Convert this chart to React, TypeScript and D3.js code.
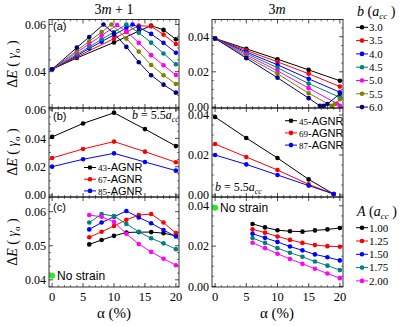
import React from "react";
import * as d3 from "d3";

const W = 415;
const H = 326;

const alphaTicks = [0, 5, 10, 15, 20];

// panel (a): gap vs strain for several b
const bLabels = ["3.0", "3.5", "4.0", "4.5", "5.0", "5.5", "6.0"];
const bColors = ["#000000", "#ff0000", "#0000ff", "#008080", "#ff00ff", "#808000", "#000080"];

const a1Alpha = [
  [0, 4, 10, 14, 16, 18, 20],
  [0, 4, 10, 12, 14, 16, 18, 20],
  [0, 4, 6, 8, 10, 12, 13, 14, 16, 18, 20],
  [0, 4, 6, 8, 10, 12, 14, 16, 18, 20],
  [0, 4, 6, 8, 10.5, 12, 14, 16, 18, 20],
  [0, 4, 6, 8, 9.6, 12, 14, 16, 18, 20],
  [0, 4, 6, 8.3, 10, 12, 14, 16, 18, 20],
];
const a1Gap = [
  [0.041, 0.0458, 0.0524, 0.0572, 0.0595, 0.0577, 0.0537],
  [0.041, 0.0463, 0.054, 0.0568, 0.0595, 0.0592, 0.0557, 0.0517],
  [0.041, 0.0468, 0.0498, 0.0527, 0.0556, 0.0585, 0.06, 0.0588, 0.056, 0.0522, 0.048],
  [0.041, 0.0473, 0.0505, 0.0537, 0.0568, 0.06, 0.0565, 0.0523, 0.0477, 0.0431],
  [0.041, 0.0482, 0.0517, 0.0553, 0.0598, 0.057, 0.0522, 0.047, 0.0427, 0.0386],
  [0.041, 0.0489, 0.0529, 0.0568, 0.06, 0.054, 0.0485, 0.0428, 0.0385, 0.0348],
  [0.041, 0.0502, 0.0547, 0.06, 0.0562, 0.0505, 0.044, 0.0385, 0.0345, 0.0311],
];

const a0Alpha = [
  [0, 5, 10, 15, 20],
  [0, 5, 10, 15, 20],
  [0, 5, 10, 15, 20],
  [0, 5, 10, 15, 20],
  [0, 5, 10, 15, 19.5, 20],
  [0, 5, 10, 15, 18.7, 19.2, 20],
  [0, 5, 10, 15, 16.8, 17.4, 18, 20],
];
const a0Gap = [
  [0.039, 0.0331, 0.0272, 0.0211, 0.0149],
  [0.039, 0.0322, 0.0257, 0.0189, 0.0116],
  [0.039, 0.0313, 0.024, 0.016, 0.0084],
  [0.039, 0.0305, 0.0223, 0.0133, 0.0055],
  [0.039, 0.0296, 0.0206, 0.0107, 0.002, 0.0006],
  [0.039, 0.0287, 0.0189, 0.0078, 0.0006, 0.0017, 0.0044],
  [0.039, 0.0278, 0.0166, 0.005, 0.0006, 0.0006, 0.0017, 0.0075],
];

// panel (b): ribbons at b = 5.5 acc
const ribbonColors = ["#000000", "#ff0000", "#0000ff"];
const b1Names = ["43", "67", "85"];
const b1Alpha = [0, 5, 10, 15, 20];
const b1Gap = [
  [0.041, 0.0505, 0.058, 0.0465, 0.0345],
  [0.0261, 0.0325, 0.0377, 0.0306, 0.0231],
  [0.02, 0.0252, 0.0294, 0.0233, 0.0172],
];
const b0Names = ["45", "69", "87"];
const b0Alpha = [0, 5, 10, 15, 19];
const b0Gap = [
  [0.039, 0.0285, 0.0185, 0.0078, 0.0005],
  [0.0255, 0.019, 0.0125, 0.0053, 0.0005],
  [0.02, 0.0153, 0.01, 0.0047, 0.0005],
];

// panel (c): varying A
const aLabels = ["1.00", "1.25", "1.50", "1.75", "2.00"];
const aColors = ["#000000", "#ff0000", "#0000ff", "#008080", "#ff00ff"];
const cAlpha = [6, 8, 10, 12, 14, 16, 18, 20];
const c1Gap = [
  [0.0504, 0.0517, 0.0529, 0.0539, 0.054, 0.054, 0.0537, 0.0529],
  [0.0525, 0.0541, 0.0558, 0.0576, 0.059, 0.0593, 0.0568, 0.0537],
  [0.0548, 0.0568, 0.0585, 0.0602, 0.0583, 0.0566, 0.0546, 0.0527],
  [0.0568, 0.0593, 0.0587, 0.0564, 0.0541, 0.0522, 0.0507, 0.049],
  [0.059, 0.0585, 0.057, 0.0535, 0.0505, 0.0482, 0.0462, 0.0443],
];
const c0Gap = [
  [0.031, 0.0293, 0.0279, 0.0274, 0.0272, 0.0278, 0.0283, 0.029],
  [0.0284, 0.0267, 0.0248, 0.0231, 0.0216, 0.0205, 0.02, 0.0197],
  [0.0262, 0.0241, 0.0221, 0.0198, 0.0179, 0.0159, 0.0145, 0.0129],
  [0.024, 0.0216, 0.019, 0.0167, 0.0147, 0.0124, 0.0103, 0.0081],
  [0.0217, 0.019, 0.0162, 0.0136, 0.0112, 0.0088, 0.0064, 0.0041],
];
const noStrain1 = 0.0412;
const noStrain0 = 0.039;

const cols = [
  [49, 179],
  [212, 343],
];
const rows = [
  [19.5, 108],
  [108, 197],
  [197, 287],
];

const serif = "Liberation Serif";
const sans = "Liberation Sans";

type Series = { xs: number[]; ys: number[]; color: string };

type PanelProps = {
  col: number;
  row: number;
  yDomain: [number, number];
  yTicks: number[];
  yMinor: number;
  series: Series[];
  showX?: boolean;
  children?: (x: d3.ScaleLinear<number, number>, y: d3.ScaleLinear<number, number>) => React.ReactNode;
};

const Panel = ({ col, row, yDomain, yTicks, yMinor, series, showX, children }: PanelProps) => {
  const [x0, x1] = cols[col];
  const [y0, y1] = rows[row];
  const x = d3.scaleLinear().domain([-0.5, 20.5]).range([x0, x1]);
  const y = d3.scaleLinear().domain(yDomain).range([y1, y0]);
  const line = d3
    .line<[number, number]>()
    .x((d) => x(d[0]))
    .y((d) => y(d[1]));
  const minorX = d3.range(0, 21, 1).filter((v) => v % 5 !== 0);
  const minorY = d3
    .range(Math.ceil(yDomain[0] / yMinor) * yMinor, yDomain[1], yMinor)
    .filter((v) => !yTicks.some((t) => Math.abs(t - v) < 1e-9));
  return (
    <g>
      <defs>
        <clipPath id={`clip-${col}-${row}`}>
          <rect x={x0} y={y0} width={x1 - x0} height={y1 - y0} />
        </clipPath>
      </defs>
      {alphaTicks.map((t) => (
        <g key={`xt${t}`} stroke="#000" strokeWidth={0.7}>
          <line x1={x(t)} x2={x(t)} y1={y1} y2={y1 - 4} />
          <line x1={x(t)} x2={x(t)} y1={y0} y2={y0 + 4} />
        </g>
      ))}
      {minorX.map((t) => (
        <g key={`xm${t}`} stroke="#000" strokeWidth={0.5}>
          <line x1={x(t)} x2={x(t)} y1={y1} y2={y1 - 2} />
          <line x1={x(t)} x2={x(t)} y1={y0} y2={y0 + 2} />
        </g>
      ))}
      {yTicks.map((t) => (
        <g key={`yt${t}`}>
          <line x1={x0} x2={x0 + 4} y1={y(t)} y2={y(t)} stroke="#000" strokeWidth={0.7} />
          <line x1={x1} x2={x1 - 4} y1={y(t)} y2={y(t)} stroke="#000" strokeWidth={0.7} />
          <text x={x0 - 3} y={y(t)} dy="0.35em" textAnchor="end" fontFamily={serif} fontSize={12}>
            {d3.format(".2f")(t)}
          </text>
        </g>
      ))}
      {minorY.map((t) => (
        <g key={`ym${t}`} stroke="#000" strokeWidth={0.5}>
          <line x1={x0} x2={x0 + 2} y1={y(t)} y2={y(t)} />
          <line x1={x1} x2={x1 - 2} y1={y(t)} y2={y(t)} />
        </g>
      ))}
      {showX &&
        alphaTicks.map((t) => (
          <text key={`xl${t}`} x={x(t)} y={y1 + 14} textAnchor="middle" fontFamily={serif} fontSize={12.5}>
            {t}
          </text>
        ))}
      <g clipPath={`url(#clip-${col}-${row})`}>
        {series.map((s, i) => (
          <g key={i}>
            <path d={line(s.xs.map((v, j) => [v, s.ys[j]] as [number, number])) || ""} fill="none" stroke={s.color} strokeWidth={1} />
            {s.xs.map((v, j) => (
              <circle key={j} cx={x(v)} cy={y(s.ys[j])} r={2.3} fill={s.color} />
            ))}
          </g>
        ))}
      </g>
      {children && children(x, y)}
      <rect x={x0} y={y0} width={x1 - x0} height={y1 - y0} fill="none" stroke="#000" strokeWidth={0.8} />
    </g>
  );
};

const LegendItem = ({ x, y, color, children }: { x: number; y: number; color: string; children: React.ReactNode }) => (
  <g>
    <line x1={x} x2={x + 12} y1={y} y2={y} stroke={color} strokeWidth={1} />
    <circle cx={x + 6} cy={y} r={2.3} fill={color} />
    {children}
  </g>
);

const YTitle = ({ cy }: { cy: number }) => (
  <text transform={`translate(17,${cy}) rotate(-90)`} textAnchor="middle" fontFamily={serif} fontSize={14}>
    <tspan>Δ</tspan>
    <tspan fontStyle="italic">E</tspan>
    <tspan> ( </tspan>
    <tspan fontStyle="italic">γ</tspan>
    <tspan fontSize={9} dy={3}>o</tspan>
    <tspan dy={-3}> )</tspan>
  </text>
);

const AccText = ({ x, y, sym }: { x: number; y: number; sym: string }) => (
  <text x={x} y={y} fontFamily={serif} fontSize={14}>
    <tspan fontStyle="italic">{sym}</tspan>
    <tspan> (</tspan>
    <tspan fontStyle="italic">a</tspan>
    <tspan fontSize={9} fontStyle="italic" dy={3}>cc</tspan>
    <tspan dy={-3}> )</tspan>
  </text>
);

const BEq = ({ x, y }: { x: number; y: number }) => (
  <text x={x} y={y} fontFamily={serif} fontSize={12}>
    <tspan fontStyle="italic">b</tspan>
    <tspan> = 5.5</tspan>
    <tspan fontStyle="italic">a</tspan>
    <tspan fontSize={8} fontStyle="italic" dy={3}>cc</tspan>
  </text>
);

const RibbonText = ({ x, y, n }: { x: number; y: number; n: string }) => (
  <text x={x} y={y} dy="0.35em" fontFamily={sans} fontSize={11}>
    <tspan fontFamily={serif} fontSize={9}>{n}</tspan>
    <tspan>-AGNR</tspan>
  </text>
);

export default function App() {
  const mk = (alphas: number[][] | number[], vals: number[][], colors: string[]): Series[] =>
    vals.map((ys, i) => ({
      xs: Array.isArray(alphas[0]) ? (alphas as number[][])[i] : (alphas as number[]),
      ys,
      color: colors[i],
    }));

  return (
    <svg width={W} height={H} style={{ display: "block", position: "absolute", left: 0, top: 0 }}>
      <rect width={W} height={H} fill="#fff" />
      <text x={114} y={14} textAnchor="middle" fontFamily={serif} fontSize={14}>
        <tspan>3</tspan>
        <tspan fontStyle="italic">m</tspan>
        <tspan> + 1</tspan>
      </text>
      <text x={277} y={14} textAnchor="middle" fontFamily={serif} fontSize={14}>
        <tspan>3</tspan>
        <tspan fontStyle="italic">m</tspan>
      </text>

      <Panel col={0} row={0} yDomain={[0.0246, 0.0621]} yTicks={[0.04, 0.06]} yMinor={0.005} series={mk(a1Alpha, a1Gap, bColors)}>
        {() => (
          <text x={53} y={30} fontFamily={sans} fontSize={11}>
            (a)
          </text>
        )}
      </Panel>
      <Panel col={1} row={0} yDomain={[-0.0006, 0.0498]} yTicks={[0, 0.02, 0.04]} yMinor={0.005} series={mk(a0Alpha, a0Gap, bColors)} />

      <Panel col={0} row={1} yDomain={[-0.0014, 0.0614]} yTicks={[0, 0.02, 0.04, 0.06]} yMinor={0.005} series={mk(b1Alpha, b1Gap, ribbonColors)}>
        {() => (
          <g>
            <text x={53} y={120} fontFamily={sans} fontSize={11}>
              (b)
            </text>
            <BEq x={132} y={119} />
            {b1Names.map((n, i) => (
              <LegendItem key={n} x={84} y={167.5 + i * 11.7} color={ribbonColors[i]}>
                <RibbonText x={98} y={167.5 + i * 11.7} n={n} />
              </LegendItem>
            ))}
          </g>
        )}
      </Panel>
      <Panel col={1} row={1} yDomain={[-0.001, 0.0435]} yTicks={[0, 0.02, 0.04]} yMinor={0.005} series={mk(b0Alpha, b0Gap, ribbonColors)}>
        {() => (
          <g>
            <BEq x={215} y={191} />
            {b0Names.map((n, i) => (
              <LegendItem key={n} x={285} y={120.7 + i * 12.2} color={ribbonColors[i]}>
                <RibbonText x={299} y={120.7 + i * 12.2} n={n} />
              </LegendItem>
            ))}
          </g>
        )}
      </Panel>

      <Panel col={0} row={2} yDomain={[0.0379, 0.0643]} yTicks={[0.04, 0.05, 0.06]} yMinor={0.002} series={mk(cAlpha, c1Gap, aColors)} showX>
        {(x, y) => (
          <g>
            <text x={53} y={211} fontFamily={sans} fontSize={11}>
              (c)
            </text>
            <circle cx={x(0)} cy={y(noStrain1)} r={3} fill="#22ee22" />
            <text x={x(0) + 5} y={y(noStrain1)} dy="0.35em" fontFamily={sans} fontSize={12}>
              No strain
            </text>
          </g>
        )}
      </Panel>
      <Panel col={1} row={2} yDomain={[-0.0003, 0.0444]} yTicks={[0, 0.02, 0.04]} yMinor={0.005} series={mk(cAlpha, c0Gap, aColors)} showX>
        {(x, y) => (
          <g>
            <circle cx={x(0)} cy={y(noStrain0)} r={3} fill="#22ee22" />
            <text x={x(0) + 5} y={y(noStrain0)} dy="0.35em" fontFamily={sans} fontSize={12}>
              No strain
            </text>
          </g>
        )}
      </Panel>

      <YTitle cy={64} />
      <YTitle cy={152} />
      <YTitle cy={242} />

      {[114, 277].map((cx) => (
        <text key={cx} x={cx} y={318} textAnchor="middle" fontFamily={serif} fontSize={15}>
          α (%)
        </text>
      ))}

      <AccText x={357} y={16} sym="b" />
      {bLabels.map((l, i) => (
        <LegendItem key={l} x={356} y={27.3 + i * 13.3} color={bColors[i]}>
          <text x={369} y={27.3 + i * 13.3} dy="0.35em" fontFamily={serif} fontSize={11}>
            {l}
          </text>
        </LegendItem>
      ))}

      <AccText x={357} y={216} sym="A" />
      {aLabels.map((l, i) => (
        <LegendItem key={l} x={356} y={227.7 + i * 13.3} color={aColors[i]}>
          <text x={369} y={227.7 + i * 13.3} dy="0.35em" fontFamily={serif} fontSize={11}>
            {l}
          </text>
        </LegendItem>
      ))}
    </svg>
  );
}
